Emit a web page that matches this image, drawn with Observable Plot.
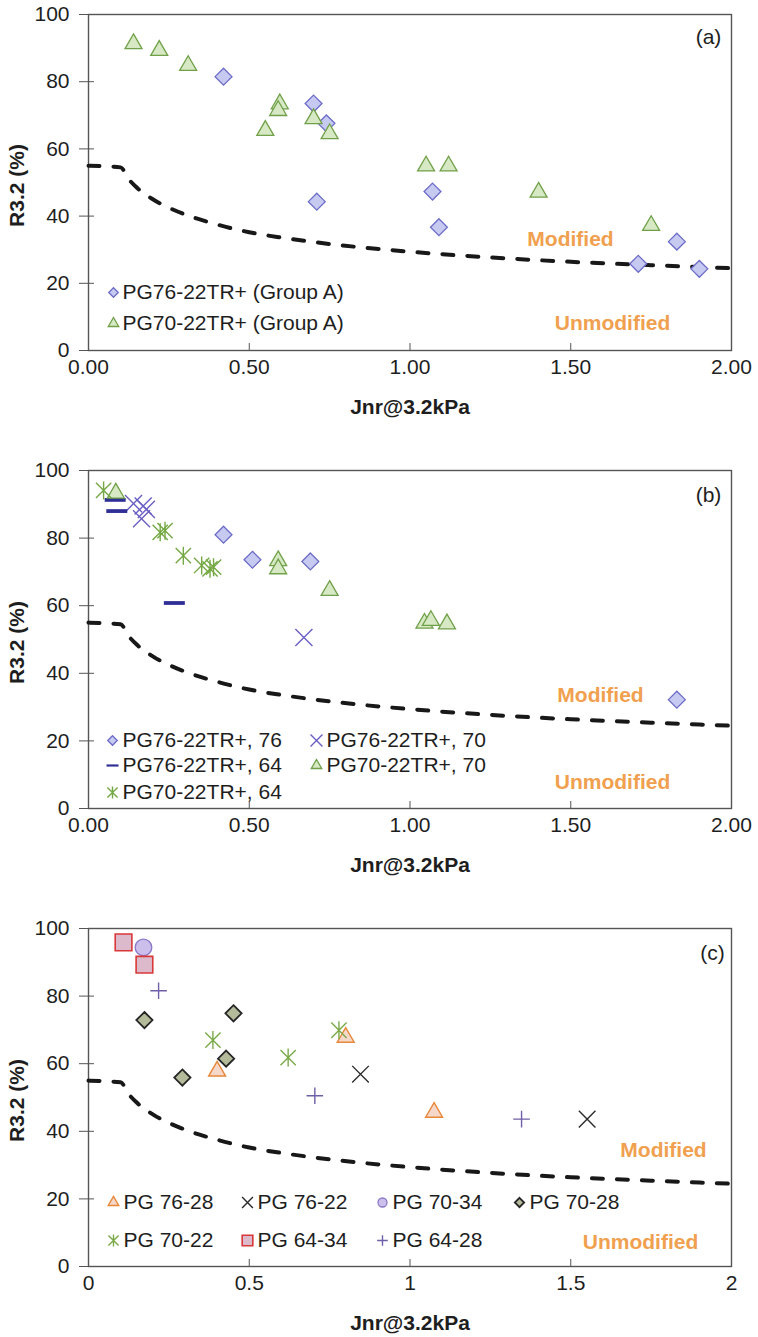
<!DOCTYPE html>
<html><head><meta charset="utf-8">
<script src="https://cdn.jsdelivr.net/npm/d3@7"></script>
<script src="https://cdn.jsdelivr.net/npm/@observablehq/plot@0.6"></script>
<style>
html,body{margin:0;padding:0;background:#fff;}
#chart{width:758px;}
#chart svg{display:block;}
</style></head><body><div id="chart"></div>
<script>
// ---------- axes ----------
const yTicks = [0, 20, 40, 60, 80, 100];
const xTicks = [0, 0.5, 1, 1.5, 2];
const xTickLabelsAB = ["0.00", "0.50", "1.00", "1.50", "2.00"];
const xTickLabelsC = ["0", "0.5", "1", "1.5", "2"];
const xTitle = "Jnr@3.2kPa";
const yTitle = "R3.2 (%)";
const zoneTop = "Modified";
const zoneBottom = "Unmodified";

// ---------- boundary curve ----------
const curveJnr = [0, 0.1, 0.125, 0.15, 0.2, 0.25, 0.3, 0.4, 0.5, 0.6, 0.75, 1.0, 1.25, 1.5, 1.75, 2.0];
const curveR   = [55, 54.5, 51, 48.5, 45, 42.5, 40.5, 37.5, 35.2, 33.6, 31.7, 29.4, 27.7, 26.4, 25.4, 24.5];

// ---------- panel (a) ----------
const aNames = ["PG76-22TR+ (Group A)", "PG70-22TR+ (Group A)"];
const a76Jnr = [0.42, 0.70, 0.74, 0.71, 1.07, 1.09, 1.71, 1.83, 1.90];
const a76R   = [81.5, 73.5, 67.6, 44.3, 47.3, 36.7, 25.8, 32.4, 24.3];
const a70Jnr = [0.14, 0.22, 0.31, 0.595, 0.59, 0.55, 0.70, 0.75, 1.05, 1.12, 1.40, 1.75];
const a70R   = [91.3, 89.3, 84.8, 73.4, 71.4, 65.5, 69.0, 64.5, 54.9, 54.9, 47.1, 37.2];

// ---------- panel (b) ----------
const bNames = ["PG76-22TR+, 76", "PG76-22TR+, 70", "PG76-22TR+, 64", "PG70-22TR+, 70", "PG70-22TR+, 64"];
const b7676Jnr = [0.42, 0.51, 0.69, 1.83];
const b7676R   = [81.0, 73.6, 73.1, 32.2];
const b7670Jnr = [0.14, 0.17, 0.18, 0.165, 0.67];
const b7670R   = [90.2, 89.5, 88.5, 85.7, 50.6];
const b7664Jnr = [0.083, 0.088, 0.267];
const b7664R   = [91.3, 88.0, 60.8];
const b7070Jnr = [0.085, 0.59, 0.59, 0.75, 1.045, 1.065, 1.115];
const b7070R   = [93.3, 73.3, 70.9, 64.5, 54.8, 55.6, 54.6];
const b7064Jnr = [0.047, 0.223, 0.238, 0.295, 0.352, 0.378, 0.389];
const b7064R   = [94.1, 81.7, 82.2, 74.8, 71.9, 70.9, 71.4];

// ---------- panel (c) ----------
const cNames = ["PG 76-28", "PG 76-22", "PG 70-34", "PG 70-28", "PG 70-22", "PG 64-34", "PG 64-28"];
const c7628Jnr = [0.40, 0.80, 1.075];
const c7628R   = [57.8, 67.8, 45.6];
const c7622Jnr = [0.846, 1.551];
const c7622R   = [56.9, 43.6];
const c7034Jnr = [0.171];
const c7034R   = [94.4];
const c7028Jnr = [0.174, 0.451, 0.428, 0.292];
const c7028R   = [72.9, 74.9, 61.5, 55.9];
const c7022Jnr = [0.387, 0.621, 0.779];
const c7022R   = [67.0, 61.8, 69.9];
const c6434Jnr = [0.109, 0.174];
const c6434R   = [95.9, 89.3];
const c6428Jnr = [0.218, 0.704, 1.347];
const c6428R   = [81.6, 50.5, 43.6];

// ---------- custom Excel-like symbols ----------
const excelStar = {draw(ctx, size) {
  const r = Math.sqrt(size / Math.PI), a = r * 0.85;
  ctx.moveTo(0, -r); ctx.lineTo(0, r);
  ctx.moveTo(-a, -a); ctx.lineTo(a, a);
  ctx.moveTo(-a, a); ctx.lineTo(a, -a);
}};
const excelDash = {draw(ctx, size) {
  const r = Math.sqrt(size / Math.PI), h = r * 0.18;
  ctx.moveTo(-r, -h); ctx.lineTo(r, -h); ctx.lineTo(r, h); ctx.lineTo(-r, h); ctx.closePath();
}};

const FONT = "'Liberation Sans', Arial, Helvetica, sans-serif";
const ORANGE = "#F0A04E";
const INK = "#1e1e1e";
const FRAME = "#555";

const zip = (xs, ys) => xs.map((x, i) => ({jnr: x, r: ys[i]}));
const curveData = zip(curveJnr, curveR);

// styles (kept separate from data)
const S = {
  diamond:  {symbol: "diamond2",  fill: "#C7CAF0", stroke: "#6C6CC8", strokeWidth: 1.3},
  triangle: {symbol: "triangle2", fill: "#D6E9C4", stroke: "#70A048", strokeWidth: 1.3},
  timesB:   {symbol: "times",     fill: "none",    stroke: "#6A60C4", strokeWidth: 1.4},
  dash:     {symbol: excelDash,   fill: "#2E2E96", stroke: "none"},
  starB:    {symbol: excelStar,   fill: "none",    stroke: "#74A844", strokeWidth: 1.4},
  triC:     {symbol: "triangle2", fill: "#F6D8CB", stroke: "#E8873A", strokeWidth: 1.4},
  timesC:   {symbol: "times",     fill: "none",    stroke: "#2a2a2a", strokeWidth: 1.4},
  circle:   {symbol: "circle",    fill: "#CDBFEB", stroke: "#8A78C8", strokeWidth: 1.3},
  diamC:    {symbol: "diamond2",  fill: "#B4BB9A", stroke: "#262626", strokeWidth: 1.8},
  starC:    {symbol: excelStar,   fill: "none",    stroke: "#7AAA4A", strokeWidth: 1.4},
  square:   {symbol: "square",    fill: "#DCBACB", stroke: "#D83838", strokeWidth: 1.6},
  plus:     {symbol: "plus",      fill: "none",    stroke: "#6F5FA8", strokeWidth: 1.4}
};

function panel(cfg) {
  const W = 758, mL = 88, mR = 27;
  const plotW = W - mL - mR, plotH = cfg.height - cfg.mt - cfg.mb;
  const marks = [
    Plot.frame({stroke: FRAME, strokeWidth: 1.4}),
    Plot.axisY({ticks: yTicks, tickSize: 9, tickPadding: 10, label: null, fontSize: 21, stroke: FRAME}),
    Plot.ruleY(yTicks, {y: d => d, insetRight: plotW - 6, stroke: FRAME}),
    Plot.axisX({ticks: xTicks, tickSize: 0, tickPadding: 9, label: null, fontSize: 21,
      tickFormat: d => cfg.xLabels[xTicks.indexOf(d)]}),
    Plot.ruleX(xTicks, {x: d => d, insetTop: plotH - 7, stroke: FRAME}),
    Plot.line(curveData, {x: "jnr", y: "r", stroke: "#181818", strokeWidth: 4,
      strokeDasharray: "11,14", strokeLinecap: "round", curve: "monotone-x"}),
    Plot.text([xTitle], {text: d => d, frameAnchor: "bottom", dy: 57, fontWeight: "bold",
      fontSize: 21, fill: INK, textAnchor: "middle", lineAnchor: "middle"}),
    Plot.text([yTitle], {text: d => d, frameAnchor: "left", dx: -71, dy: 3, rotate: -90, fontWeight: "bold",
      fontSize: 21, fill: INK, textAnchor: "middle", lineAnchor: "middle"}),
    Plot.text([cfg.tag], {text: d => d, frameAnchor: "top-right", dx: cfg.tagDx, dy: cfg.tagDy,
      fontSize: 21, fill: INK, textAnchor: "middle", lineAnchor: "middle"}),
    Plot.text([zoneTop], {text: d => d, frameAnchor: "bottom-right", dx: cfg.modDx, dy: cfg.modDy,
      fontWeight: "bold", fontSize: 21, fill: ORANGE, textAnchor: "middle", lineAnchor: "middle"}),
    Plot.text([zoneBottom], {text: d => d, frameAnchor: "bottom-right", dx: cfg.unDx, dy: cfg.unDy,
      fontWeight: "bold", fontSize: 21, fill: ORANGE, textAnchor: "middle", lineAnchor: "middle"})
  ];
  for (const s of cfg.series) {
    marks.push(Plot.dot(zip(s.jnr, s.r), {x: "jnr", y: "r", r: s.size, ...S[s.style]}));
  }
  cfg.series.forEach((s, i) => {
    const [col, row] = cfg.legendPos[i];
    const dx = cfg.legendCols[col], dy = cfg.legendRows[row];
    marks.push(Plot.dot([s.name], {frameAnchor: "bottom-left", dx, dy, r: s.legendSize, ...S[s.style]}));
    marks.push(Plot.text([s.name], {text: d => d, frameAnchor: "bottom-left", dx: dx + cfg.legendGap, dy,
      fontSize: 21, fill: INK, textAnchor: "start", lineAnchor: "middle"}));
  });
  return Plot.plot({
    width: W, height: cfg.height,
    marginLeft: mL, marginRight: mR, marginTop: cfg.mt, marginBottom: cfg.mb,
    x: {domain: [0, 2]}, y: {domain: [0, 100]},
    style: {fontFamily: FONT, fontSize: "21px", color: INK, background: "#fff", overflow: "visible"},
    marks
  });
}

const chart = document.getElementById("chart");

chart.append(panel({
  height: 430, mt: 14, mb: 80, xLabels: xTickLabelsAB, tag: "(a)", tagDx: -23, tagDy: 23,
  modDx: -161, modDy: -111, unDx: -119, unDy: -27,
  legendCols: [25], legendRows: [-58, -27], legendGap: 9,
  legendPos: [[0, 0], [0, 1]],
  series: [
    {name: aNames[0], jnr: a76Jnr, r: a76R, style: "diamond", size: 7.6, legendSize: 4.3},
    {name: aNames[1], jnr: a70Jnr, r: a70R, style: "triangle", size: 8.1, legendSize: 5}
  ]
}));

chart.append(panel({
  height: 450, mt: 40, mb: 72, xLabels: xTickLabelsAB, tag: "(b)", tagDx: -23, tagDy: 25,
  modDx: -131, modDy: -113, unDx: -119, unDy: -26,
  legendCols: [24, 228], legendRows: [-68, -43, -16], legendGap: 10,
  legendPos: [[0, 0], [1, 0], [0, 1], [1, 1], [0, 2]],
  series: [
    {name: bNames[0], jnr: b7676Jnr, r: b7676R, style: "diamond", size: 7.6, legendSize: 4.3},
    {name: bNames[1], jnr: b7670Jnr, r: b7670R, style: "timesB", size: 7.8, legendSize: 5.5},
    {name: bNames[2], jnr: b7664Jnr, r: b7664R, style: "dash", size: 10.5, legendSize: 6},
    {name: bNames[3], jnr: b7070Jnr, r: b7070R, style: "triangle", size: 8.1, legendSize: 5},
    {name: bNames[4], jnr: b7064Jnr, r: b7064R, style: "starB", size: 9, legendSize: 6}
  ]
}));

chart.append(panel({
  height: 457, mt: 48, mb: 71, xLabels: xTickLabelsC, tag: "(c)", tagDx: -19, tagDy: 25,
  modDx: -68, modDy: -116, unDx: -91, unDy: -24,
  legendCols: [25, 159, 294, 431], legendRows: [-64, -26], legendGap: 10,
  legendPos: [[0, 0], [1, 0], [2, 0], [3, 0], [0, 1], [1, 1], [2, 1]],
  series: [
    {name: cNames[0], jnr: c7628Jnr, r: c7628R, style: "triC", size: 8.1, legendSize: 5},
    {name: cNames[1], jnr: c7622Jnr, r: c7622R, style: "timesC", size: 7.6, legendSize: 5},
    {name: cNames[2], jnr: c7034Jnr, r: c7034R, style: "circle", size: 8.3, legendSize: 4.5},
    {name: cNames[3], jnr: c7028Jnr, r: c7028R, style: "diamC", size: 7.3, legendSize: 4.2},
    {name: cNames[4], jnr: c7022Jnr, r: c7022R, style: "starC", size: 9, legendSize: 6},
    {name: cNames[5], jnr: c6434Jnr, r: c6434R, style: "square", size: 9.4, legendSize: 6},
    {name: cNames[6], jnr: c6428Jnr, r: c6428R, style: "plus", size: 5.4, legendSize: 3.5}
  ]
}));
</script>
</body></html>
